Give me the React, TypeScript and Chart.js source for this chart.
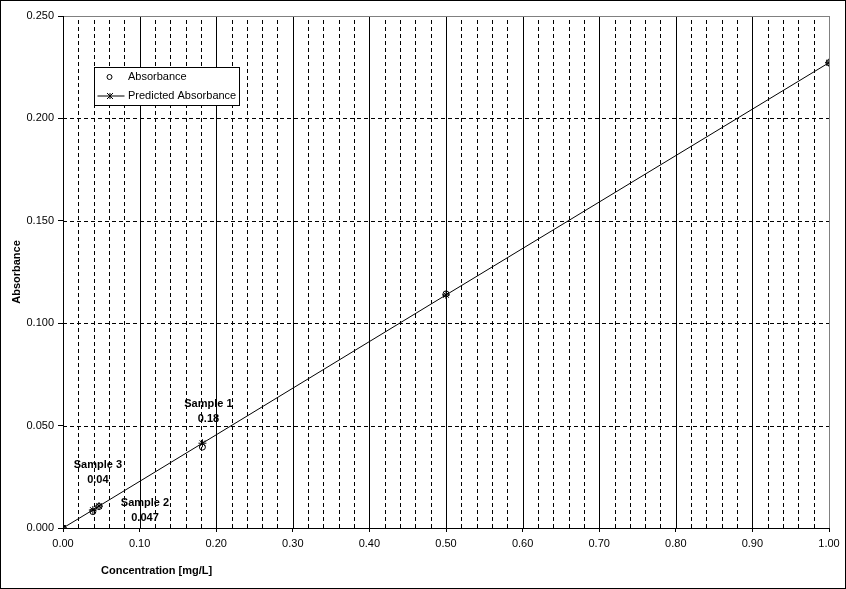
import React, { useEffect, useRef } from "react";
import { Chart, registerables } from "chart.js";
Chart.register(...registerables);

const concentrations = [0, 0.039, 0.047, 0.182, 0.5, 1.0];
const absorbance = [0, 0.008, 0.0105, 0.0395, 0.1143, 0.2272];
const predictedAbsorbance = [0, 0.0088, 0.0107, 0.0414, 0.1138, 0.2272];
const seriesNames = ["Absorbance", "Predicted Absorbance"];
const sampleIndex = [3, 2, 1];
const sampleNames = ["Sample 1", "Sample 2", "Sample 3"];
const sampleValues = ["0.18", "0.047", "0.04"];
const sampleLabelOffsets = [
  [6, -39],
  [46, -3],
  [5, -45],
];
const xTitle = "Concentration [mg/L]";
const yTitle = "Absorbance";
const xMax = 1.0;
const yMax = 0.25;
const xMajorStep = 0.1;
const xMinorStep = 0.02;
const yMajorStep = 0.05;

const FONT = "'Liberation Sans', Arial, sans-serif";
const DASH = [4, 3];

const decorPlugin = {
  id: "decor",
  beforeDraw(chart: any) {
    const c = chart.ctx;
    c.save();
    c.fillStyle = "#fff";
    c.fillRect(0, 0, chart.width, chart.height);
    c.restore();
  },
  beforeDatasetsDraw(chart: any) {
    const c = chart.ctx;
    const xs = chart.scales.x;
    const ys = chart.scales.y;
    const { left, right, top, bottom } = chart.chartArea;
    c.save();
    c.lineWidth = 1;
    const n = Math.round(xMax / xMinorStep);
    const perMajor = Math.round(xMajorStep / xMinorStep);
    for (let i = 1; i <= n; i++) {
      const v = i * xMinorStep;
      const px = Math.round(xs.getPixelForValue(v)) + 0.5;
      c.beginPath();
      if (i === n) {
        c.setLineDash([]);
        c.strokeStyle = "#808080";
      } else if (i % perMajor === 0) {
        c.setLineDash([]);
        c.strokeStyle = "#000";
      } else {
        c.setLineDash(DASH);
        c.strokeStyle = "#000";
      }
      c.moveTo(px, bottom);
      c.lineTo(px, top);
      c.stroke();
    }
    const m = Math.round(yMax / yMajorStep);
    for (let j = 1; j <= m; j++) {
      const v = j * yMajorStep;
      const py = Math.round(ys.getPixelForValue(v)) + 0.5;
      c.beginPath();
      if (j === m) {
        c.setLineDash([]);
        c.strokeStyle = "#808080";
      } else {
        c.setLineDash(DASH);
        c.strokeStyle = "#000";
      }
      c.moveTo(left, py);
      c.lineTo(right, py);
      c.stroke();
    }
    c.setLineDash([]);
    c.strokeStyle = "#000";
    c.beginPath();
    const lx = Math.round(left) + 0.5;
    const by = Math.round(bottom) + 0.5;
    c.moveTo(lx, top);
    c.lineTo(lx, by);
    c.lineTo(right, by);
    c.stroke();
    c.restore();
  },
  afterDraw(chart: any) {
    const c = chart.ctx;
    const xs = chart.scales.x;
    const ys = chart.scales.y;
    const { left, top, bottom } = chart.chartArea;
    c.save();
    // sample labels
    c.fillStyle = "#000";
    c.font = `bold 11px ${FONT}`;
    c.textAlign = "center";
    c.textBaseline = "middle";
    sampleIndex.forEach((idx, k) => {
      const px = xs.getPixelForValue(concentrations[idx]);
      const py = ys.getPixelForValue(predictedAbsorbance[idx]);
      const [dx, dy] = sampleLabelOffsets[k];
      c.fillText(sampleNames[k], px + dx, py + dy);
      c.fillText(sampleValues[k], px + dx, py + dy + 15);
    });
    // axis titles
    c.textAlign = "left";
    c.fillText(xTitle, left + 38, bottom + 43);
    c.save();
    c.translate(17, (top + bottom) / 2);
    c.rotate(-Math.PI / 2);
    c.textAlign = "center";
    c.fillText(yTitle, 0, 0);
    c.restore();
    // legend
    const bx = left + 31.5, byy = top + 51.5, bw = 145, bh = 38;
    c.fillStyle = "#fff";
    c.fillRect(bx, byy, bw, bh);
    c.strokeStyle = "#000";
    c.lineWidth = 1;
    c.strokeRect(bx, byy, bw, bh);
    c.font = `11px ${FONT}`;
    c.fillStyle = "#000";
    c.textAlign = "left";
    const r1 = byy + 9.5, r2 = byy + 28.5;
    c.beginPath();
    c.arc(bx + 15, r1, 2.5, 0, Math.PI * 2);
    c.stroke();
    c.fillText(chart.data.datasets[0].label, bx + 33.5, r1);
    c.beginPath();
    c.moveTo(bx + 3, r2);
    c.lineTo(bx + 30, r2);
    c.stroke();
    const sx = bx + 15.5, sr = 3;
    c.beginPath();
    c.moveTo(sx - sr, r2 - sr); c.lineTo(sx + sr, r2 + sr);
    c.moveTo(sx - sr, r2 + sr); c.lineTo(sx + sr, r2 - sr);
    c.moveTo(sx, r2 - sr); c.lineTo(sx, r2 + sr);
    c.stroke();
    c.fillText(chart.data.datasets[1].label, bx + 33.5, r2);
    // outer border
    c.strokeRect(0.5, 0.5, chart.width - 1, chart.height - 1);
    c.restore();
  },
};

export default function App() {
  const ref = useRef<HTMLCanvasElement>(null);
  useEffect(() => {
    document.body.style.margin = "0";
    const chart = new Chart(ref.current!, {
      type: "scatter",
      data: {
        datasets: [
          {
            label: seriesNames[0],
            data: concentrations.map((x, i) => ({ x, y: absorbance[i] })),
            showLine: false,
            pointStyle: "circle",
            pointRadius: 3,
            pointBorderColor: "#000",
            pointBackgroundColor: "rgba(255,255,255,0)",
            pointBorderWidth: 1,
          },
          {
            label: seriesNames[1],
            data: concentrations.map((x, i) => ({ x, y: predictedAbsorbance[i] })),
            showLine: true,
            borderColor: "#000",
            borderWidth: 1,
            pointStyle: "star",
            pointRadius: 4,
            pointBorderColor: "#000",
            pointBorderWidth: 1,
          },
        ],
      },
      options: {
        animation: false,
        responsive: false,
        devicePixelRatio: 1,
        layout: { padding: { left: 0, top: 16, right: 17, bottom: 0 } },
        plugins: { legend: { display: false }, tooltip: { enabled: false } },
        scales: {
          x: {
            type: "linear",
            min: 0,
            max: xMax,
            afterFit: (s: any) => { s.height = 61; },
            ticks: {
              stepSize: xMajorStep,
              callback: (v: any) => Number(v).toFixed(2),
              color: "#000",
              font: { family: FONT, size: 11 },
              padding: 5,
              maxRotation: 0,
            },
            grid: { drawOnChartArea: false, drawTicks: true, tickLength: 4, tickColor: "#000" },
            border: { color: "#000" },
          },
          y: {
            type: "linear",
            min: 0,
            max: yMax,
            afterFit: (s: any) => { s.width = 63; },
            ticks: {
              stepSize: yMajorStep,
              callback: (v: any) => Number(v).toFixed(3),
              color: "#000",
              font: { family: FONT, size: 11 },
              padding: 4,
            },
            grid: { drawOnChartArea: false, drawTicks: true, tickLength: 5, tickColor: "#000" },
            border: { color: "#000" },
          },
        },
      },
      plugins: [decorPlugin],
    });
    return () => chart.destroy();
  }, []);
  return <canvas ref={ref} width={846} height={589} />;
}
